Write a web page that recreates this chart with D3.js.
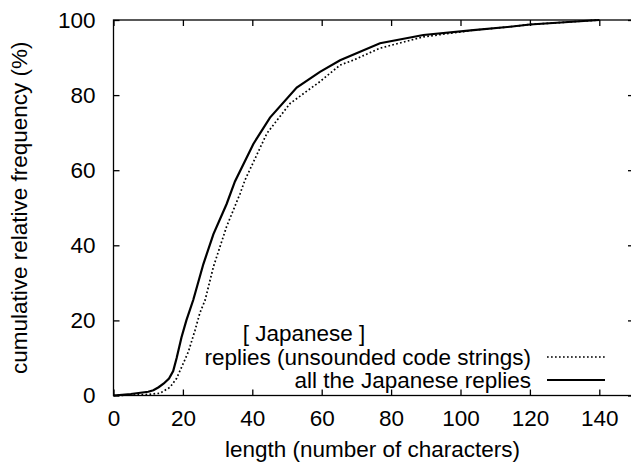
<!doctype html>
<html>
<head>
<meta charset="utf-8">
<script src="https://d3js.org/d3.v7.min.js"></script>
<style>
  body { margin: 0; background: #fff; }
  svg text { font-family: "Liberation Sans", Arial, Helvetica, sans-serif; font-size: 22.5px; fill: #000; }
</style>
</head>
<body>
<svg id="chart" width="631" height="464"></svg>
<script>
// lengths (characters) and cumulative relative frequency (%)
const allLen  = [0, 5, 10, 11.5, 13, 14.5, 16, 17.2, 18.2, 19.6, 21, 23, 25.9, 28.8, 32.6, 35, 40.3, 45.1, 52.8, 59.5, 65.3, 76.8, 89.3, 103.7, 114.3, 120, 130, 140]
const allFreq = [0, 0.4, 1.0, 1.4, 2.2, 3.2, 4.5, 6.5, 10, 15.5, 20, 25.5, 35, 43, 51, 57, 67, 74, 82, 86.2, 89.3, 93.8, 96, 97.3, 98.2, 98.8, 99.4, 100]

const codeLen  = [0, 5, 10, 13.4, 16.3, 18.2, 19.7, 21.6, 23.5, 24.9, 26.4, 28.8, 32.6, 36.5, 37.9, 44.2, 50.9, 59.5, 65.3, 69.1, 76.8, 89.3, 103.7, 114.3, 120, 130, 140]
const codeFreq = [0, 0.1, 0.3, 0.6, 2.2, 4.6, 7.7, 11.7, 17.4, 22, 25.4, 34.3, 45, 53.8, 57.4, 69.8, 77.8, 83.6, 88, 89.3, 92.5, 95.5, 97.3, 98.2, 98.8, 99.4, 100]

const xTicks = [0, 20, 40, 60, 80, 100, 120, 140]
const yTicks = [0, 20, 40, 60, 80, 100]

const legendTitle = "[ Japanese ]"
const seriesNames = ["replies (unsounded code strings)", "all the Japanese replies"]

const svg = d3.select("#chart")
const L = 113.5, R = 634, T = 20, B = 395.5
const TICK = 6

const x = d3.scaleLinear().domain([0, 150]).range([L, R])
const y = d3.scaleLinear().domain([0, 100]).range([B, T])

// frame
svg.append("rect")
    .attr("x", L).attr("y", T).attr("width", R - L).attr("height", B - T)
    .attr("fill", "none").attr("stroke", "#000").attr("stroke-width", 1.3)

// x ticks, bottom and mirrored at top
const xb = d3.axisBottom(x).tickValues(xTicks).tickSizeInner(-TICK).tickSizeOuter(0).tickPadding(15)
svg.append("g").attr("transform", "translate(0," + B + ")").call(xb)
const xt = d3.axisTop(x).tickValues(xTicks).tickSizeInner(-TICK).tickSizeOuter(0).tickFormat("")
svg.append("g").attr("transform", "translate(0," + T + ")").call(xt)

const yl = d3.axisLeft(y).tickValues(yTicks).tickSizeInner(-TICK).tickSizeOuter(0).tickPadding(18)
svg.append("g").attr("transform", "translate(" + L + ",0)").call(yl)
const yr = d3.axisRight(y).tickValues(yTicks).tickSizeInner(-TICK).tickSizeOuter(0).tickFormat("")
svg.append("g").attr("transform", "translate(" + R + ",0)").call(yr)

svg.selectAll(".domain").remove()
svg.selectAll(".tick line").attr("stroke", "#000").attr("stroke-width", 1.3)
svg.selectAll(".tick text").attr("font-size", null).attr("font-family", null)

// series
const line = d3.line().x(d => x(d[0])).y(d => y(d[1]))
const codeData = d3.zip(codeLen, codeFreq)
const allData = d3.zip(allLen, allFreq)

svg.append("path").datum(codeData).attr("d", line)
    .attr("fill", "none").attr("stroke", "#000").attr("stroke-width", 1.7)
    .attr("stroke-dasharray", "1.7,2.3")
svg.append("path").datum(allData).attr("d", line)
    .attr("fill", "none").attr("stroke", "#000").attr("stroke-width", 2.2)

// legend
svg.append("text").attr("x", 304).attr("y", 341).attr("text-anchor", "middle").text(legendTitle)
const lg = [
  { y: 357, dash: "1.7,2.3", w: 1.7 },
  { y: 380, dash: null, w: 2.2 }
]
lg.forEach((d, i) => {
    svg.append("text").attr("x", 531).attr("y", d.y + 7.5).attr("text-anchor", "end").text(seriesNames[i])
    svg.append("line").attr("x1", 547).attr("x2", 605).attr("y1", d.y).attr("y2", d.y)
        .attr("stroke", "#000").attr("stroke-width", d.w).attr("stroke-dasharray", d.dash)
})

// axis titles
svg.append("text").attr("x", 372.5).attr("y", 457).attr("text-anchor", "middle")
    .text("length (number of characters)")
svg.append("text").attr("transform", "translate(27," + ((T + B) / 2) + ") rotate(-90)")
    .attr("text-anchor", "middle").text("cumulative relative frequency (%)")
</script>
</body>
</html>
